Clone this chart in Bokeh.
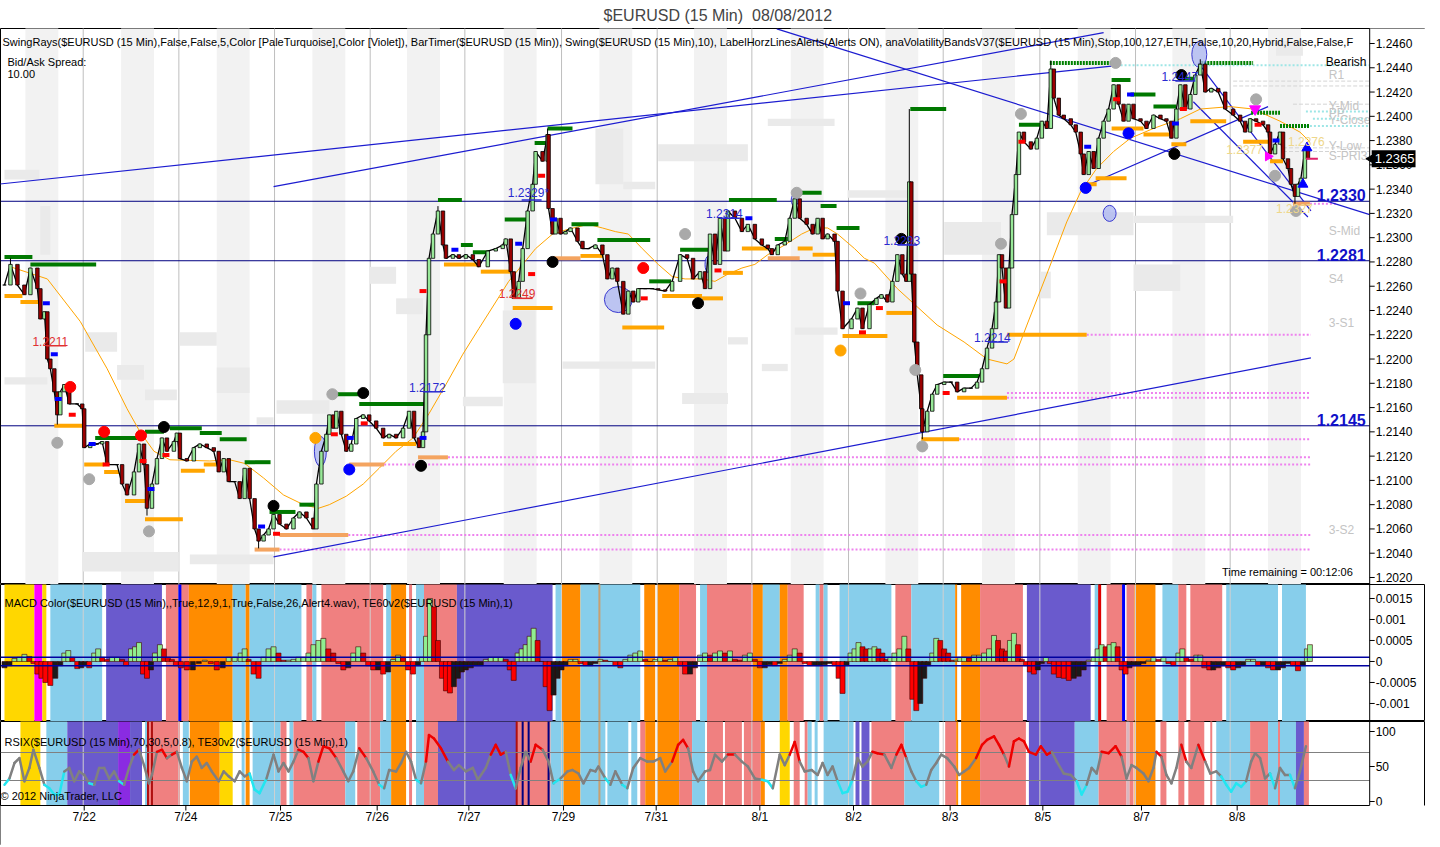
from bokeh.plotting import figure
from bokeh.layouts import column
from bokeh.models import Range1d
from bokeh.core.properties import value
from bokeh.embed import file_html
from bokeh.resources import INLINE

FONT = "Liberation Sans"

# ---------------- data ----------------
# x is the bar position (15 min bars, one screen column each)
day_ticks = [87, 189, 284, 381, 473, 568, 661, 765, 859, 956, 1049, 1148, 1244]
day_labels = ["7/22", "7/24", "7/25", "7/26", "7/27", "7/29", "7/31",
              "8/1", "8/2", "8/3", "8/5", "8/7", "8/8"]
day_breaks = [86, 182, 278, 374, 469, 566, 662, 757, 854, 949, 1046, 1142, 1237]
session_starts = [28, 124, 220, 316, 411, 508, 604, 699, 796, 891, 988, 1084, 1179, 1275]

price_ticks = [1.2020, 1.2040, 1.2060, 1.2080, 1.2100, 1.2120, 1.2140, 1.2160,
               1.2180, 1.2200, 1.2220, 1.2240, 1.2260, 1.2280, 1.2300, 1.2320,
               1.2340, 1.2360, 1.2380, 1.2400, 1.2420, 1.2440, 1.2460]
macd_ticks = [-0.001, -0.0005, 0, 0.0005, 0.001, 0.0015]
macd_tick_labels = ["-0.001", "-0.0005", "0", "0.0005", "0.001", "0.0015"]
rsi_ticks = [0, 50, 100]

bars = [7, 13, 20, 27, 33, 40, 43, 47, 50, 53,
        57, 60, 63, 67, 72, 80, 85, 87, 93, 100,
        105, 110, 120, 125, 130, 137, 142, 147, 150, 155,
        160, 165, 170, 177, 180, 183, 190, 197, 203, 210,
        217, 222, 227, 232, 238, 243, 248, 253, 258, 262,
        267, 272, 277, 283, 290, 297, 303, 310, 317, 320,
        325, 330, 333, 337, 340, 345, 350, 355, 360, 367,
        373, 380, 387, 393, 400, 407, 413, 418, 423, 427,
        430, 433, 437, 442, 447, 450, 457, 463, 470, 477,
        483, 492, 500, 507, 510, 515, 518, 523, 527, 532,
        537, 540, 547, 552, 553, 557, 560, 565, 570, 575,
        582, 587, 593, 600, 607, 612, 617, 622, 628, 633,
        638, 643, 650, 657, 663, 670, 677, 685, 692, 698,
        705, 710, 715, 720, 725, 730, 733, 740, 747, 753,
        760, 767, 773, 777, 783, 790, 795, 800, 805, 812,
        818, 823, 828, 833, 840, 843, 848, 857, 863, 868,
        875, 882, 887, 893, 898, 903, 908, 912, 915, 917,
        920, 923, 927, 928, 933, 938, 943, 950, 957, 963,
        970, 977, 983, 988, 993, 998, 1002, 1005, 1008, 1012,
        1015, 1018, 1022, 1025, 1030, 1037, 1043, 1048, 1053, 1057,
        1060, 1065, 1070, 1077, 1082, 1087, 1090, 1095, 1100, 1105,
        1110, 1115, 1120, 1125, 1130, 1135, 1140, 1147, 1153, 1160,
        1167, 1173, 1178, 1183, 1187, 1192, 1197, 1202, 1207, 1212,
        1218, 1225, 1232, 1240, 1247, 1252, 1257, 1263, 1270, 1275,
        1277, 1282, 1287, 1290, 1295, 1298, 1302, 1305, 1308, 1312,
        1315]
closes = [1.2261, 1.2278, 1.2261, 1.2253, 1.2275, 1.2258, 1.2233, 1.2239, 1.2200, 1.2192,
          1.2173, 1.2154, 1.2173, 1.2179, 1.2163, 1.2163, 1.2159, 1.2127, 1.2130, 1.2130,
          1.2132, 1.2113, 1.2113, 1.2097, 1.2088, 1.2107, 1.2130, 1.2113, 1.2077, 1.2097,
          1.2118, 1.2135, 1.2124, 1.2132, 1.2139, 1.2118, 1.2116, 1.2127, 1.2130, 1.2127,
          1.2124, 1.2107, 1.2118, 1.2099, 1.2099, 1.2085, 1.2110, 1.2085, 1.2060, 1.2050,
          1.2055, 1.2060, 1.2072, 1.2064, 1.2060, 1.2069, 1.2074, 1.2069, 1.2060, 1.2097,
          1.2124, 1.2138, 1.2154, 1.2143, 1.2157, 1.2138, 1.2124, 1.2130, 1.2151, 1.2154,
          1.2149, 1.2143, 1.2135, 1.2138, 1.2135, 1.2143, 1.2157, 1.2135, 1.2127, 1.2140,
          1.2220, 1.2283, 1.2303, 1.2322, 1.2294, 1.2283, 1.2286, 1.2283, 1.2286, 1.2282,
          1.2276, 1.2289, 1.2291, 1.2294, 1.2299, 1.2272, 1.2250, 1.2264, 1.2291, 1.2322,
          1.2344, 1.2371, 1.2363, 1.2385, 1.2324, 1.2303, 1.2316, 1.2303, 1.2305, 1.2308,
          1.2297, 1.2291, 1.2291, 1.2294, 1.2286, 1.2266, 1.2275, 1.2264, 1.2237, 1.2256,
          1.2247, 1.2258, 1.2258, 1.2258, 1.2257, 1.2256, 1.2264, 1.2286, 1.2283, 1.2266,
          1.2272, 1.2258, 1.2303, 1.2278, 1.2316, 1.2289, 1.2322, 1.2316, 1.2305, 1.2311,
          1.2299, 1.2294, 1.2291, 1.2286, 1.2294, 1.2297, 1.2316, 1.2332, 1.2316, 1.2311,
          1.2303, 1.2316, 1.2299, 1.2303, 1.2297, 1.2256, 1.2225, 1.2233, 1.2242, 1.2225,
          1.2245, 1.2250, 1.2253, 1.2247, 1.2264, 1.2286, 1.2270, 1.2264, 1.2346, 1.2270,
          1.2214, 1.2187, 1.2159, 1.2140, 1.2157, 1.2171, 1.2179, 1.2181, 1.2181, 1.2173,
          1.2176, 1.2176, 1.2181, 1.2192, 1.2209, 1.2225, 1.2247, 1.2286, 1.2275, 1.2242,
          1.2275, 1.2319, 1.2352, 1.2387, 1.2379, 1.2373, 1.2382, 1.2396, 1.2390, 1.2439,
          1.2415, 1.2401, 1.2398, 1.2393, 1.2387, 1.2369, 1.2352, 1.2371, 1.2357, 1.2382,
          1.2396, 1.2406, 1.2426, 1.2410, 1.2396, 1.2410, 1.2398, 1.2396, 1.2390, 1.2401,
          1.2398, 1.2396, 1.2382, 1.2406, 1.2426, 1.2406, 1.2418, 1.2434, 1.2443, 1.2420,
          1.2423, 1.2420, 1.2406, 1.2401, 1.2396, 1.2387, 1.2398, 1.2396, 1.2393, 1.2387,
          1.2369, 1.2377, 1.2387, 1.2365, 1.2357, 1.2344, 1.2334, 1.2344, 1.2349, 1.2373,
          1.2365]

# extreme wicks of a few bars
wick_bars = [13, 60, 150, 262, 442, 552, 915, 928, 1057, 1207, 1302]
wick_ends = [1.2283, 1.2146, 1.2071, 1.2044, 1.2326, 1.2390, 1.2406, 1.2134, 1.2446, 1.2447, 1.2328]

# moving average (thin orange)
ma_bars = [13, 50, 83, 110, 130, 143, 157, 173, 213, 233, 248, 267, 287, 307, 322, 333,
           350, 367, 383, 400, 417, 433, 450, 467, 483, 500, 513, 527, 540, 557, 573,
           593, 607, 620, 633, 647, 663, 677, 690, 707, 720, 733, 747, 760, 773, 790,
           807, 820, 833, 843, 860, 870, 880, 903, 943, 970, 993, 1013, 1020, 1033,
           1053, 1073, 1087, 1103, 1120, 1137, 1160, 1187, 1207, 1237, 1260, 1287,
           1307, 1317]
ma_vals = [1.2276, 1.2266, 1.2231, 1.2192, 1.2159, 1.2140, 1.2124, 1.2117, 1.2116, 1.2117,
           1.2114, 1.2102, 1.2088, 1.2080, 1.2077, 1.2080, 1.2087, 1.2097, 1.2110, 1.2124,
           1.2135, 1.2155, 1.2179, 1.2204, 1.2225, 1.2247, 1.2264, 1.2278, 1.2291, 1.2303,
           1.2307, 1.2311, 1.2308, 1.2305, 1.2303, 1.2291, 1.2278, 1.2268, 1.2266, 1.2266,
           1.2264, 1.2270, 1.2275, 1.2278, 1.2286, 1.2294, 1.2303, 1.2308, 1.2308, 1.2303,
           1.2291, 1.2283, 1.2279, 1.2258, 1.2228, 1.2214, 1.2200, 1.2196, 1.2200, 1.2228,
           1.2270, 1.2313, 1.2338, 1.2357, 1.2371, 1.2382, 1.2390, 1.2398, 1.2406, 1.2408,
           1.2406, 1.2396, 1.2387, 1.2379]

# swing highs (green) and swing lows (orange / salmon)
sh_start = [7, 33, 98, 148, 173, 203, 223, 248, 273, 303, 340, 363, 442, 465, 477, 509,
            539, 552, 576, 602, 654, 685, 734, 780, 807, 826, 842, 863, 916, 949, 1025,
            1118, 1137, 1160, 1185]
sh_end = [35, 99, 140, 167, 205, 225, 250, 274, 299, 320, 363, 428, 466, 477, 493, 531,
          552, 577, 603, 655, 676, 715, 782, 793, 827, 842, 865, 880, 952, 985, 1047,
          1137, 1162, 1183, 1200]
sh_price = [1.2284, 1.2278, 1.2135, 1.2140, 1.2143, 1.2139, 1.2134, 1.2115, 1.2074, 1.2080,
            1.2171, 1.2163, 1.2331, 1.2294, 1.2288, 1.2315, 1.2378, 1.2390, 1.2311, 1.2298,
            1.2264, 1.2290, 1.2331, 1.2299, 1.2337, 1.2326, 1.2308, 1.2246, 1.2406, 1.2186,
            1.2393, 1.2430, 1.2418, 1.2408, 1.2431]
shd_start = [1056, 1208, 1258, 1287]
shd_end = [1118, 1260, 1287, 1317]
shd_price = [1.2444, 1.2444, 1.2403, 1.2392]

sl_start = [7, 23, 57, 87, 107, 128, 148, 184, 207, 387, 448, 485, 517, 585, 627, 667,
            707, 728, 747, 803, 818, 848, 892, 927, 963, 1013, 1092, 1102, 1118, 1150,
            1178, 1197, 1250, 1277]
sl_end = [25, 42, 87, 107, 122, 149, 186, 208, 220, 420, 482, 515, 557, 608, 669, 707,
          728, 748, 773, 818, 843, 893, 918, 965, 1013, 1093, 1103, 1133, 1150, 1180,
          1193, 1233, 1277, 1290]
sl_price = [1.2252, 1.2247, 1.2145, 1.2113, 1.2107, 1.2083, 1.2068, 1.2108, 1.2113, 1.2130,
            1.2278, 1.2272, 1.2242, 1.2285, 1.2226, 1.2252, 1.2250, 1.2271, 1.2291, 1.2291,
            1.2286, 1.2219, 1.2238, 1.2134, 1.2168, 1.2220, 1.2344, 1.2349, 1.2390, 1.2385,
            1.2377, 1.2396, 1.2379, 1.2363]
sls_start = [258, 283, 353, 422, 557, 773, 1300]
sls_end = [283, 352, 388, 452, 585, 805, 1317]
sls_price = [1.2043, 1.2055, 1.2113, 1.2119, 1.2283, 1.2283, 1.2328]

# unbroken swing-low rays (violet dotted)
ray_start = [283, 352, 388, 452, 965, 1013, 1013, 1093, 1317]
ray_end = [1318, 1318, 1318, 1318, 1318, 1318, 1318, 1318, 1345]
ray_price = [1.2043, 1.2055, 1.2113, 1.2119, 1.2134, 1.2172, 1.2168, 1.2220, 1.2328]

# pale turquoise rays and faint pivot lines near the last day
cyan_start = [1127, 1313, 1320, 1313]
cyan_price = [1.2442, 1.2404, 1.2398, 1.2392]
pivot_start = [1240, 1240, 1300, 1290, 1290]
pivot_price = [1.2429, 1.2425, 1.2410, 1.2374, 1.2371]

# horizontal support / resistance levels
levels = [1.2330, 1.2281, 1.2145]

# trend lines (bar0, price0, bar1, price1)
tl_x0 = [0, 277, 782, 277, 1205, 1200, 1090]
tl_y0 = [1.2344, 1.2342, 1.2472, 1.2037, 1.2444, 1.2412, 1.2342]
tl_x1 = [1125, 1110, 1377, 1318, 1318, 1315, 1275]
tl_y1 = [1.2442, 1.2469, 1.2319, 1.2201, 1.2322, 1.2317, 1.2408]

# volatility band blocks (bar0, bar1, top, bottom)
vb_x0 = [7, 43, 7, 88, 120, 148, 183, 220, 260, 280, 85, 193, 373, 400, 467, 507, 567,
         600, 628, 663, 773, 687, 733, 767, 800, 853, 950, 1053, 1140, 1140, 1047, 1283]
vb_x1 = [42, 53, 50, 120, 147, 180, 220, 253, 277, 333, 182, 277, 400, 427, 507, 540, 660,
         628, 660, 753, 840, 733, 753, 793, 843, 913, 1007, 1140, 1240, 1187, 1057, 1310]
vb_top = [1.2356, 1.2326, 1.2185, 1.2222, 1.2195, 1.2175, 1.2222, 1.2193, 1.2152, 1.2166,
          1.2041, 1.2039, 1.2276, 1.2250, 1.2169, 1.2240, 1.2198, 1.2390, 1.2346, 1.2377,
          1.2398, 1.2172, 1.2218, 1.2196, 1.2226, 1.2339, 1.2313, 1.2321, 1.2318, 1.2278,
          1.2272, 1.2462]
vb_bot = [1.2348, 1.2286, 1.2179, 1.2206, 1.2183, 1.2166, 1.2211, 1.2172, 1.2146, 1.2155,
          1.2025, 1.2031, 1.2262, 1.2237, 1.2161, 1.2180, 1.2192, 1.2344, 1.2340, 1.2363,
          1.2392, 1.2163, 1.2212, 1.2190, 1.2220, 1.2333, 1.2286, 1.2302, 1.2312, 1.2256,
          1.2250, 1.2450]

# swing dots
gray_x = [60, 92, 152, 336, 690, 802, 866, 921, 928, 1007, 1027, 1122, 1263, 1282, 1303]
gray_y = [1.2131, 1.2101, 1.2058, 1.2171, 1.2303, 1.2337, 1.2254, 1.2191, 1.2128, 1.2295,
          1.2402, 1.2444, 1.2414, 1.2351, 1.2322]
red_x = [73, 107, 144, 648]
red_y = [1.2177, 1.2140, 1.2137, 1.2275]
black_x = [167, 277, 367, 425, 557, 703, 907, 1181, 1188]
black_y = [1.2144, 1.2079, 1.2172, 1.2112, 1.2280, 1.2246, 1.2299, 1.2369, 1.2434]
blue_x = [353, 520, 1092, 1135]
blue_y = [1.2109, 1.2229, 1.2341, 1.2386]
orange_x = [319, 846]
orange_y = [1.2135, 1.2207]

# highlighted ellipses (bar, price, width in bars, height in price)
ell_x = [324, 623, 713, 800, 1116, 1206]
ell_y = [1.2124, 1.2249, 1.2278, 1.2331, 1.2320, 1.2451]
ell_w = [12, 28, 6, 7, 13, 15]
ell_h = [0.00247, 0.00214, 0.00132, 0.0010, 0.00132, 0.00214]

# small bar markers
mb_x = [49, 57, 61, 95, 154, 265, 354, 427, 459, 523, 558, 754, 852, 1094, 1137, 1182, 1283]
mb_y = [1.2246, 1.2204, 1.2167, 1.2130, 1.2093, 1.2062, 1.2135, 1.2135, 1.2290, 1.2295,
        1.2315, 1.2316, 1.2246, 1.2375, 1.2418, 1.2394, 1.2380]
mr_x = [75, 109, 146, 169, 280, 338, 368, 427, 536, 546, 649, 723, 868, 885, 952, 1009,
        1028, 1123, 1190, 1265]
mr_y = [1.2154, 1.2113, 1.2116, 1.2121, 1.2056, 1.2138, 1.2147, 1.2256, 1.2270, 1.2351,
        1.2250, 1.2273, 1.2222, 1.2242, 1.2172, 1.2264, 1.2379, 1.2414, 1.2406, 1.2393]

# swing value labels
sv_text = ["1.2211", "1.2172", "1.2249", "1.2329*", "1.2314", "1.2293", "1.2214", "1.2447"]
sv_x = [35, 413, 503, 512, 711, 889, 980, 1168]
sv_y = [1.2211, 1.2173, 1.2250, 1.2331, 1.2316, 1.2294, 1.2214, 1.2429]
sv_kind = ["low", "high", "low", "high", "high", "high", "high", "high"]
kv_text = ["1.2377", "1.2376", "1.2327"]
kv_x = [1233, 1295, 1283]
kv_y = [1.2373, 1.2379, 1.2324]

# pivot names on the right
pv_text = ["R1", "Y-Mid", "PP", "Y-Close", "Y-Low", "S-PRI3", "S-Mid", "S4", "3-S1", "3-S2"]
pv_y = [1.24344, 1.24089, 1.24031, 1.23973, 1.23759, 1.23677, 1.23051, 1.22663, 1.22301, 1.20595]

last_price = 1.2365

# MACD histogram (units of 0.0001)
macd_bar = [7, 12, 17, 22, 27, 32, 36, 40, 44, 48,
            53, 58, 63, 67, 71, 75, 80, 84, 88, 92,
            97, 101, 105, 110, 115, 120, 125, 129, 134, 138,
            142, 146, 150, 154, 158, 163, 167, 171, 175, 179,
            184, 190, 196, 202, 208, 214, 220, 226, 232, 238,
            244, 248, 252, 257, 262, 267, 272, 277, 282, 287,
            292, 297, 302, 307, 312, 317, 322, 327, 332, 337,
            342, 347, 352, 357, 362, 367, 372, 377, 382, 387,
            392, 397, 402, 407, 412, 417, 422, 426, 430, 434,
            438, 442, 446, 450, 454, 458, 462, 466, 470, 475,
            480, 485, 490, 495, 500, 505, 510, 514, 518, 522,
            526, 530, 534, 538, 542, 546, 550, 554, 558, 562,
            566, 570, 575, 580, 585, 590, 595, 600, 605, 610,
            615, 620, 625, 630, 635, 640, 645, 650, 655, 660,
            665, 670, 675, 680, 685, 690, 695, 700, 705, 710,
            715, 720, 725, 730, 735, 740, 745, 750, 755, 760,
            765, 770, 775, 780, 785, 790, 795, 800, 805, 810,
            815, 820, 825, 830, 835, 840, 844, 848, 852, 856,
            860, 864, 868, 872, 876, 880, 884, 888, 892, 896,
            900, 905, 910, 914, 918, 922, 926, 930, 934, 938,
            942, 946, 950, 954, 958, 962, 966, 970, 975, 980,
            985, 990, 995, 1000, 1004, 1008, 1012, 1016, 1020, 1024,
            1028, 1032, 1036, 1040, 1044, 1048, 1052, 1056, 1060, 1065,
            1070, 1075, 1080, 1085, 1090, 1095, 1100, 1104, 1108, 1112,
            1116, 1120, 1124, 1128, 1132, 1136, 1140, 1145, 1150, 1155,
            1160, 1165, 1170, 1175, 1180, 1185, 1189, 1193, 1198, 1203,
            1207, 1211, 1216, 1220, 1225, 1230, 1235, 1240, 1245, 1250,
            1255, 1260, 1265, 1270, 1275, 1280, 1285, 1290, 1295, 1300,
            1305, 1310, 1314, 1317]
macd_e4 = [-1.5, -1, 0.7, 1, 1.7, 1.2, -0.5, -3, -4, -5,
           -5.7, -4, -1, 2, 2.6, 1, -1.7, -1.5, -1, -1.5,
           2, 3, 1, 0.5, 1, 1, 0.5, -1, 3, 3.5,
           4.5, -3, -4, -2, 2, 4, 3, 1, 0.5, -1,
           -1.5, -2, -2, -0.5, 0.3, -0.5, -2, -1.5, 1, 1,
           2, 3, 0.5, -3, -4, 1, 3, 3.5, 2, 0.3,
           0.3, 0.5, 1, 1, 2, 4, 5, 5.5, 3, 2,
           -0.5, -2, -1.5, 2, 3.5, 2, -1, -2, -2, -3,
           -2.5, 0.5, 1.5, 1, -2, -3, -1, 1, 6, 15,
           13, 5, -4, -7, -7.5, -6, -4, -2.5, -2, -1.5,
           -1, -1, 0.5, 1, 1, 1, 0.5, -2, -4.5, 2,
           3, 4, 6, 7.9, 5, 0, -6, -11.7, -8, -4,
           -2, -1, 0.5, 0.5, -0.5, -1, -1, -0.5, 0.5, 0.3,
           0, -1, -1.5, 0.5, 1.5, 2, 2.5, 0.5, 0, 0.5,
           1, 0.3, 0.5, 1, -1, -3, -3, -1.5, 1.5, 2,
           1.5, 2, 2.5, 2, 2.5, 0.5, 0.3, 1.5, 2, 0.5,
           -1.5, -1.5, -0.8, -1, -0.5, 0.5, 1.5, 3, 2, -0.5,
           -1, -1, -1, -0.8, -0.5, -1, -4, -7.6, -1, 2,
           3, 4.5, 3.5, 3, 3, 3.5, 3, 2, 0.5, 1,
           2, 3, 6, 3, -9, -11.7, -10, -4, -1, 2,
           5.5, 5, 3, 2, 0.3, 0.3, 1, 1, 0.8, 1.5,
           1.5, 2, 3, 6.2, 5, 3, 2.5, 5, 6.7, 4,
           0.5, -1, -2.5, -3, -2, -0.5, 1, -0.5, -3, -3.8,
           -4, -4.5, -4, -3.5, -2, 0.3, 1, 3, 4, 3.5,
           4, 4.5, 3.5, -2, -3, -1.5, -1, -1, -0.5, 0.3,
           1, 0.5, 1, -0.5, -1, 2, 3, 1, 0.5, 1.5,
           1.5, -1.5, -2, -2, -1.5, -1, -1.5, -2, -1.5, -1,
           0.5, 0.5, -1, -1, -1.5, -2, -2, -1.5, -0.5, -1,
           -2.2, -1, 3, 4]

# trend state backgrounds: Y gold, M magenta, S sky, P slate, C coral, O orange, V violet, G gray
macd_bg_x0 = [7, 37, 45, 53, 109, 169, 192, 236, 249, 253, 310, 316, 325, 390, 395, 413, 420,
              428, 461, 560, 566, 585, 649, 662, 684, 705, 712, 758, 768, 785, 793, 821,
              825, 829, 845, 901, 917, 961, 967, 986, 1033, 1101, 1113, 1133, 1141, 1169,
              1185, 1197, 1233, 1289]
macd_bg_x1 = [37, 45, 49, 105, 165, 192, 236, 249, 253, 305, 316, 320, 387, 395, 410, 416, 428,
              461, 557, 566, 585, 645, 660, 684, 701, 712, 758, 768, 785, 793, 809, 825,
              829, 833, 897, 917, 961, 963, 986, 1029, 1097, 1105, 1129, 1141, 1162, 1185,
              1193, 1229, 1285, 1313]
macd_bg_state = ["Y", "M", "Y", "S", "P", "C", "O", "S", "O", "S", "C", "S", "C", "S", "O", "C", "S",
                 "C", "P", "S", "O", "S", "O", "O", "C", "S", "C", "O", "S", "O", "C", "S",
                 "C", "S", "S", "C", "S", "O", "O", "C", "P", "S", "C", "C", "O", "S",
                 "C", "C", "S", "S"]
macd_mark_x = [183, 604, 1106, 1130]
macd_mark_kind = ["blue", "tan", "red", "blue"]

rsi_bg_x0 = [23, 49, 70, 121, 133, 148, 151, 186, 193, 223, 245, 249, 256, 284, 293, 297, 349,
             361, 384, 395, 413, 420, 428, 442, 521, 555, 568, 585, 612, 636, 645, 650,
             662, 684, 697, 712, 730, 749, 766, 785, 799, 810, 813, 820, 829, 861, 867,
             877, 910, 951, 962, 967, 986, 1035, 1081, 1105, 1133, 1136, 1141, 1167, 1185,
             1195, 1217, 1223, 1257, 1275, 1285, 1287, 1303, 1311]
rsi_bg_x1 = [43, 70, 121, 133, 145, 151, 183, 192, 223, 236, 248, 253, 284, 290, 297, 349, 359,
             384, 395, 410, 416, 428, 442, 521, 555, 568, 585, 610, 633, 642, 650, 660,
             684, 697, 710, 728, 747, 766, 770, 795, 805, 813, 817, 823, 859, 865, 875,
             910, 945, 962, 964, 986, 1032, 1081, 1105, 1133, 1136, 1140, 1162, 1173, 1191,
             1211, 1219, 1257, 1275, 1285, 1287, 1303, 1311, 1316]
rsi_bg_state = ["Y", "S", "P", "V", "P", "S", "C", "S", "O", "Y", "S", "O", "S", "C", "S", "C", "S",
                "C", "S", "O", "C", "S", "C", "P", "C", "S", "O", "S", "S", "S", "C", "O",
                "O", "C", "S", "C", "C", "C", "O", "Y", "C", "C", "S", "S", "S", "P", "P",
                "C", "S", "C", "O", "O", "C", "P", "S", "C", "G", "C", "O", "C", "C",
                "C", "C", "S", "C", "S", "C", "S", "P", "C"]
rsi_mark_x = [151, 155, 521, 527, 533, 553, 604]
rsi_mark_kind = ["darkred", "darkred", "darkred", "navy", "navy", "navy", "tan"]

rsi_bar = [7, 12, 17, 22, 27, 32, 36, 42, 47, 52,
           57, 62, 67, 72, 77, 82, 87, 92, 97, 102,
           107, 112, 117, 122, 127, 132, 137, 142, 147, 152,
           155, 160, 165, 170, 175, 180, 185, 190, 195, 200,
           205, 210, 215, 222, 227, 232, 238, 243, 248, 253,
           258, 263, 270, 277, 282, 287, 292, 297, 302, 307,
           312, 317, 322, 327, 333, 340, 347, 352, 357, 363,
           370, 377, 383, 388, 393, 400, 405, 410, 415, 420,
           425, 430, 433, 438, 445, 452, 458, 463, 470, 477,
           482, 490, 495, 500, 505, 510, 515, 520, 525, 530,
           535, 540, 547, 553, 558, 565, 572, 577, 583, 588,
           595, 600, 603, 610, 615, 620, 627, 632, 638, 645,
           652, 658, 665, 670, 677, 683, 688, 693, 698, 703,
           710, 715, 720, 727, 733, 740, 747, 753, 760, 767,
           773, 778, 785, 790, 795, 800, 805, 810, 817, 823,
           828, 833, 838, 843, 848, 853, 858, 863, 868, 873,
           878, 883, 890, 897, 902, 907, 912, 917, 922, 927,
           932, 937, 942, 947, 953, 960, 965, 970, 975, 982,
           988, 993, 1000, 1005, 1010, 1015, 1020, 1025, 1030, 1035,
           1042, 1047, 1053, 1058, 1063, 1070, 1077, 1083, 1088, 1093,
           1098, 1103, 1108, 1115, 1122, 1128, 1133, 1138, 1143, 1150,
           1155, 1160, 1163, 1168, 1173, 1178, 1183, 1188, 1193, 1198,
           1205, 1212, 1217, 1223, 1228, 1233, 1238, 1243, 1248, 1253,
           1258, 1262, 1267, 1272, 1277, 1282, 1287, 1292, 1297, 1302,
           1307, 1313]
rsi_vals = [24, 33, 55, 62, 29, 48, 74, 48, 24, 19,
            10, 10, 43, 48, 29, 43, 38, 26, 24, 48,
            48, 33, 43, 29, 24, 48, 67, 74, 52, 26,
            38, 71, 74, 62, 67, 71, 48, 29, 57, 64,
            48, 55, 43, 29, 43, 36, 29, 43, 36, 40,
            17, 12, 33, 67, 43, 55, 43, 57, 74, 71,
            62, 29, 57, 79, 76, 62, 43, 29, 43, 76,
            62, 43, 24, 19, 45, 43, 55, 71, 57, 31,
            26, 57, 95, 90, 76, 57, 45, 52, 43, 48,
            31, 48, 67, 81, 67, 71, 38, 19, 48, 71,
            57, 81, 74, 57, 26, 33, 43, 45, 40, 26,
            45, 43, 50, 33, 24, 43, 24, 19, 48, 62,
            57, 57, 62, 43, 57, 81, 88, 76, 43, 29,
            43, 45, 67, 57, 67, 67, 57, 50, 33, 31,
            29, 19, 67, 52, 67, 85, 57, 43, 45, 38,
            55, 38, 50, 29, 12, 14, 31, 62, 50, 57,
            71, 69, 67, 48, 67, 81, 62, 43, 29, 21,
            24, 45, 55, 67, 62, 50, 38, 43, 48, 62,
            81, 88, 93, 81, 67, 50, 86, 90, 86, 71,
            67, 79, 67, 71, 57, 40, 38, 29, 10, 24,
            48, 40, 71, 69, 79, 64, 33, 52, 48, 40,
            29, 48, 71, 64, 38, 26, 48, 81, 57, 48,
            81, 57, 40, 43, 36, 24, 14, 26, 21, 29,
            57, 69, 62, 33, 40, 19, 48, 38, 38, 19,
            43, 79]

# ---------------- styling ----------------
STATE_COLORS = {"Y": "#FFD700", "M": "#FF00FF", "S": "#87CEEB", "P": "#6A5ACD",
                "C": "#F08080", "O": "#FF8C00", "V": "#8A2BE2", "G": "#D8B8C0"}
MARK_STYLE = {"blue": ("#0000FF", 3), "red": ("#DD0000", 3), "tan": ("#C8A070", 2),
              "darkred": ("#B01010", 2), "navy": ("#000080", 2)}
X0, AX, X1 = 3, 1377, 1433      # plot start, price-axis line, right edge of the window
FRAME_W = 1425


def make_fig(height, y0, y1, **kw):
    p = figure(frame_width=FRAME_W, frame_height=height, x_range=xr,
               y_range=Range1d(y0, y1), y_axis_location=None, x_axis_location=None,
               toolbar_location=None, output_backend="svg",
               min_border_left=0, min_border_right=0, min_border_top=0,
               min_border_bottom=0, **kw)
    p.xgrid.visible = False
    p.ygrid.visible = False
    p.outline_line_color = "black"
    p.outline_line_width = 1
    p.background_fill_color = "white"
    p.border_fill_color = "white"
    return p


def txt(p, x, y, s, size="11px", color="black", align="left", baseline="middle",
        style="normal"):
    p.text(x=[x], y=[y], text=[s], text_font=value(FONT), text_font_size=size,
           text_color=color, text_align=align, text_baseline=baseline,
           text_font_style=style)


def right_axis(p, ticks, labels, y0, y1):
    p.segment(x0=[AX], y0=[y0], x1=[AX], y1=[y1], line_color="black", line_width=1)
    p.segment(x0=AX, y0=ticks, x1=AX + 5, y1=ticks, line_color="black", line_width=1)
    p.text(x=AX + 6, y=ticks, text=labels, text_font=value(FONT), text_font_size="12px",
           text_color="black", text_baseline="middle")


xr = Range1d(X0, X1)

# ---------------- price panel ----------------
P_LO, P_HI = 1.201422, 1.247236
p1 = make_fig(556, P_LO, P_HI, title="$EURUSD (15 Min)\u00a0 08/08/2012")
p1.title.text_font = FONT
p1.title.text_font_size = "16px"
p1.title.text_font_style = "normal"
p1.title.align = "left"
p1.title.offset = 603
p1.title.standoff = 9

ytop, ybot = 1.2475, 1.2010
p1.quad(left=session_starts, right=[s + 33 for s in session_starts], bottom=ybot, top=ytop,
        fill_color="#F2F2F2", line_color=None)
p1.segment(x0=day_breaks, y0=ybot, x1=day_breaks, y1=ytop, line_color="#BEBEBE", line_width=1)
p1.quad(left=vb_x0, right=vb_x1, top=vb_top, bottom=vb_bot, fill_color="#EAEAEA",
        line_color=None)

# pivot / ray lines
p1.segment(x0=pivot_start, y0=pivot_price, x1=AX, y1=pivot_price, line_color="#D4D4D4",
           line_width=1, line_dash="4 2")
p1.segment(x0=cyan_start, y0=cyan_price, x1=AX, y1=cyan_price, line_color="#9EE6E6",
           line_width=2, line_dash="2 2")
p1.segment(x0=ray_start, y0=ray_price, x1=ray_end, y1=ray_price, line_color="#EE82EE",
           line_width=2, line_dash="2 2")

# levels and trend lines
p1.segment(x0=X0, y0=levels, x1=AX, y1=levels, line_color="#000080", line_width=1)
p1.segment(x0=tl_x0, y0=tl_y0, x1=tl_x1, y1=tl_y1, line_color="#1C1CD0", line_width=1.2)

# moving average
p1.line(ma_bars, ma_vals, line_color="#FFA500", line_width=1)

# swing lines
p1.segment(x0=sl_start, y0=sl_price, x1=sl_end, y1=sl_price, line_color="#FFA500",
           line_width=4)
p1.segment(x0=sls_start, y0=sls_price, x1=sls_end, y1=sls_price, line_color="#F4A460",
           line_width=4)
p1.segment(x0=sh_start, y0=sh_price, x1=sh_end, y1=sh_price, line_color="#007800",
           line_width=4)
p1.segment(x0=shd_start, y0=shd_price, x1=shd_end, y1=shd_price, line_color="#008000",
           line_width=4, line_dash="2 1")

# ellipses
p1.ellipse(x=ell_x, y=ell_y, width=ell_w, height=ell_h, fill_color="#AAB4F0",
           fill_alpha=0.75, line_color="#3A3AD0", line_width=1)

# price candles
opens = [closes[0]] + closes[:-1]
close_at = dict(zip(bars, closes))
p1.segment(x0=wick_bars, y0=[close_at[b] for b in wick_bars], x1=wick_bars, y1=wick_ends,
           line_color="black", line_width=1)
p1.line(bars, closes, line_color="black", line_width=1.3)
p1.vbar(x=bars, width=3.5, top=[max(o, c) for o, c in zip(opens, closes)],
        bottom=[min(o, c) for o, c in zip(opens, closes)],
        fill_color=["#98E898" if c >= o else "#9A0000" for o, c in zip(opens, closes)],
        line_color="black", line_width=0.8)
p1.segment(x0=[1313], y0=[last_price], x1=[1325], y1=[last_price], line_color="#E0206A",
           line_width=2)

# markers
p1.rect(x=mb_x, y=mb_y, width=7, height=4, height_units="screen", fill_color="#0000FF",
        line_color=None)
p1.rect(x=mr_x, y=mr_y, width=7, height=4, height_units="screen", fill_color="#FF0000",
        line_color=None)
p1.scatter(gray_x, gray_y, size=11, color="#A9A9A9")
p1.scatter(red_x, red_y, size=11, color="#FF0000")
p1.scatter(black_x, black_y, size=11, color="#000000")
p1.scatter(blue_x, blue_y, size=11, color="#0000FF")
p1.scatter(orange_x, orange_y, size=11, color="#FFA500")
p1.scatter([1262], [1.2406], marker="inverted_triangle", size=11, color="#FF00FF")
p1.scatter([1275], [1.2367], marker="triangle", angle=-1.5708, size=9, color="#FF00FF")
p1.scatter([1310, 1314], [1.2344, 1.2374], marker="triangle", size=10, color="#0000FF")

# swing value labels
for s, x, y, k in zip(sv_text, sv_x, sv_y, sv_kind):
    c = "#E03030" if k == "low" else "#2A2AD0"
    p1.segment(x0=[x + 14], y0=[y], x1=[x + 34], y1=[y], line_color=c, line_width=1.5)
    txt(p1, x, y, s, size="12px", color=c, baseline="bottom")
for s, x, y in zip(kv_text, kv_x, kv_y):
    txt(p1, x, y, s, size="12px", color="#EED78A")
for s, y in zip(pv_text, pv_y):
    txt(p1, 1336, y, s, size="12px", color="#C4C4C4")
for lv in levels:
    txt(p1, 1373, lv, "%.4f" % lv, size="16px", color="#1010C8", align="right",
        baseline="bottom", style="bold")

txt(p1, 5, 1.24616, "SwingRays($EURUSD (15 Min),False,False,5,Color [PaleTurquoise],Color [Violet]), "
    "BarTimer($EURUSD (15 Min)), Swing($EURUSD (15 Min),10), LabelHorzLinesAlerts(Alerts ON), "
    "anaVolatilityBandsV37($EURUSD (15 Min),Stop,100,127,ETH,False,10,20,Hybrid,False,False,F")
txt(p1, 10, 1.24451, "Bid/Ask Spread:")
txt(p1, 10, 1.24352, "10.00")
txt(p1, 1333, 1.24451, "Bearish", size="12px")
txt(p1, 1360, 1.20249, "Time remaining = 00:12:06", align="right")

# white mask over the axis strip, then the price axis and last-price tag
p1.quad(left=[AX], right=[X1 + 5], bottom=[P_LO - 0.001], top=[P_HI + 0.001],
        fill_color="white", line_color=None)
right_axis(p1, price_ticks, ["%.4f" % t for t in price_ticks], P_LO, P_HI)
p1.rect(x=[1401], y=[last_price], width=44, height=17, height_units="screen",
        fill_color="black", line_color=None)
p1.scatter([1379], [last_price], marker="triangle", angle=1.5708, size=10, color="black")
txt(p1, 1382, last_price, "%.4f" % last_price, size="13px", color="white")

# ---------------- MACD panel ----------------
M_LO, M_HI = -0.001429, 0.001833
p2 = make_fig(137, M_LO, M_HI)
p2.quad(left=macd_bg_x0, right=macd_bg_x1, bottom=-0.002, top=0.002,
        fill_color=[STATE_COLORS[s] for s in macd_bg_state], line_color=None)
p2.segment(x0=day_breaks, y0=-0.002, x1=day_breaks, y1=0.002, line_color="#D0D0D0",
           line_width=1)
for x, k in zip(macd_mark_x, macd_mark_kind):
    c, w = MARK_STYLE[k]
    p2.segment(x0=[x], y0=[-0.002], x1=[x], y1=[0.002], line_color=c, line_width=w)

macd = [v / 10000 for v in macd_e4]
prev = [macd[0]] + macd[:-1]
hist_colors = []
for v, pv in zip(macd, prev):
    if v >= 0:
        hist_colors.append("#90EE90" if v >= pv else "#E00000")
    else:
        hist_colors.append("#FF0000" if v < pv else "#1A1A1A")
p2.vbar(x=macd_bar, width=5, top=macd, bottom=0, fill_color=hist_colors,
        line_color="#400000", line_width=0.6)
p2.segment(x0=X0, y0=[0.0001, -0.0001], x1=AX, y1=[0.0001, -0.0001], line_color="#0000A0",
           line_width=1.5)
txt(p2, 7, 0.001381, "MACD Color($EURUSD (15 Min),,True,12,9,1,True,False,26,Alert4.wav), "
    "TE60v2($EURUSD (15 Min),1)")
right_axis(p2, macd_ticks, macd_tick_labels, M_LO, M_HI)

# ---------------- RSI panel (with the date axis drawn below it) ----------------
R_LO, R_HI = -5.7, 114.3
R_PX = 120 / 84                      # rsi units per pixel
R_BOTTOM = R_HI - 124 * R_PX
p3 = make_fig(124, R_BOTTOM, R_HI)
p3.quad(left=rsi_bg_x0, right=rsi_bg_x1, bottom=R_LO, top=120,
        fill_color=[STATE_COLORS[s] for s in rsi_bg_state], line_color=None)
p3.segment(x0=day_breaks, y0=R_LO, x1=day_breaks, y1=120, line_color="#D0D0D0", line_width=1)
for x, k in zip(rsi_mark_x, rsi_mark_kind):
    c, w = MARK_STYLE[k]
    p3.segment(x0=[x], y0=[R_LO], x1=[x], y1=[120], line_color=c, line_width=w)
p3.segment(x0=X0, y0=[70, 30], x1=AX, y1=[70, 30], line_color="#808080", line_width=1)
seg_c = []
for a, b in zip(rsi_vals[:-1], rsi_vals[1:]):
    m = (a + b) / 2
    seg_c.append("#EE0000" if m >= 66 else ("#22E6F0" if m <= 30 else "#808080"))
p3.segment(x0=rsi_bar[:-1], y0=rsi_vals[:-1], x1=rsi_bar[1:], y1=rsi_vals[1:],
           line_color=seg_c, line_width=2.5, line_cap="round")
txt(p3, 7, 85.7, "RSIX($EURUSD (15 Min),70,30,5,0.8), TE30v2($EURUSD (15 Min),1)")
txt(p3, 3, 7.2, "\u00a9 2012 NinjaTrader, LLC")
right_axis(p3, rsi_ticks, [str(t) for t in rsi_ticks], R_LO, R_HI)

# date axis
p3.quad(left=[X0 - 5], right=[X1 + 5], bottom=[R_BOTTOM - 5], top=[R_LO],
        fill_color="white", line_color=None)
p3.segment(x0=[X0 - 5], y0=[R_LO], x1=[AX], y1=[R_LO], line_color="black", line_width=1)
p3.segment(x0=day_ticks, y0=R_LO, x1=day_ticks, y1=R_LO - 5 * R_PX, line_color="black",
           line_width=1)
p3.text(x=day_ticks, y=R_LO - 11 * R_PX, text=day_labels, text_font=value(FONT),
        text_font_size="12px", text_color="black", text_align="center",
        text_baseline="middle")

layout = column(p1, p2, p3, spacing=0)
open("out.html", "w").write(file_html(layout, INLINE))
